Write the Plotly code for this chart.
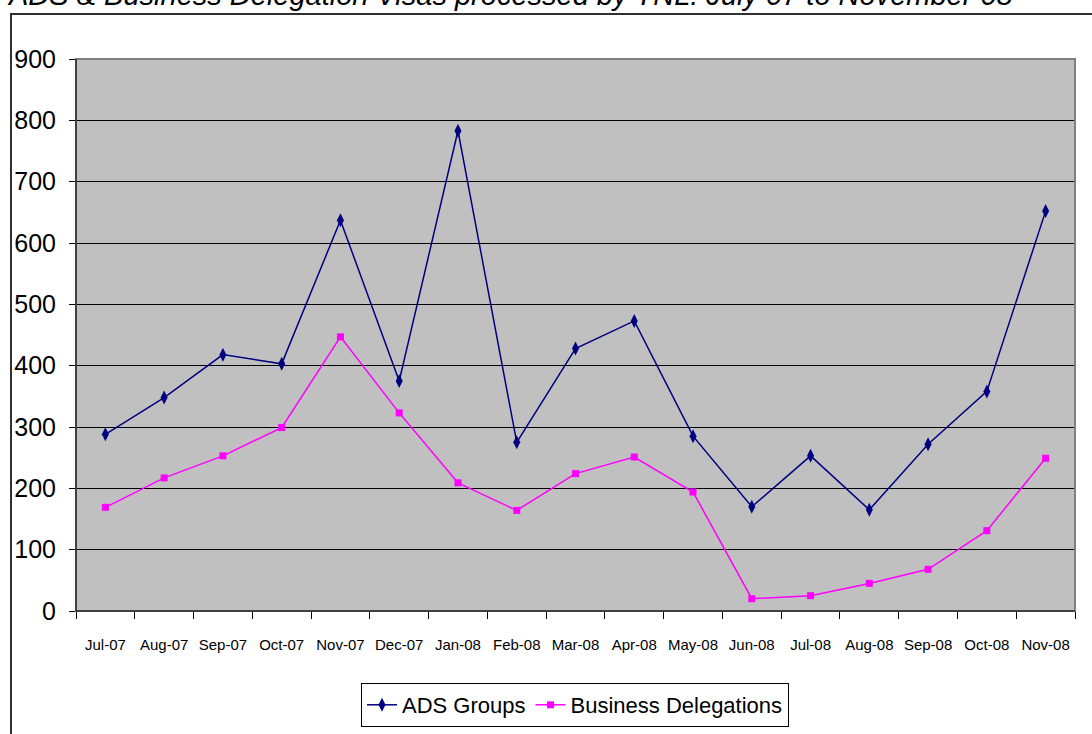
import plotly.graph_objects as go

months = ["Jul-07", "Aug-07", "Sep-07", "Oct-07", "Nov-07", "Dec-07", "Jan-08", "Feb-08",
          "Mar-08", "Apr-08", "May-08", "Jun-08", "Jul-08", "Aug-08", "Sep-08", "Oct-08", "Nov-08"]
ads_groups = [288, 348, 418, 403, 637, 375, 783, 275, 428, 473, 285, 170, 253, 165, 272, 358, 652]
business_delegations = [169, 217, 253, 299, 447, 323, 209, 164, 224, 251, 194, 20, 25, 45, 68, 131, 249]
y_ticks = [0, 100, 200, 300, 400, 500, 600, 700, 800, 900]

FONT = "Liberation Sans, Arial, sans-serif"

fig = go.Figure()
fig.add_trace(go.Scatter(
    x=months, y=ads_groups, name="ADS Groups", mode="lines+markers",
    line=dict(color="#000080", width=1.5),
    marker=dict(symbol="diamond-tall", size=10, color="#000080"),
))
fig.add_trace(go.Scatter(
    x=months, y=business_delegations, name="Business Delegations", mode="lines+markers",
    line=dict(color="#FF00FF", width=1.5),
    marker=dict(symbol="square", size=7, color="#FF00FF"),
))

W, H = 1092, 734
L, R, T, B = 76, 17, 59, 123
pw, ph = W - L - R, H - T - B

def px_x(p):
    return (p - L) / pw

def px_y(p):
    return (H - B - p) / ph

fig.update_layout(
    width=W, height=H,
    margin=dict(l=L, r=R, t=T, b=B, pad=0, autoexpand=False),
    paper_bgcolor="white",
    plot_bgcolor="#C0C0C0",
    font=dict(family=FONT, color="black"),
    showlegend=True,
    legend=dict(
        orientation="h", xref="container", yref="container",
        x=575 / W, xanchor="center", y=(H - 683) / H, yanchor="top",
        bgcolor="white", bordercolor="black", borderwidth=1,
        font=dict(family=FONT, size=22, color="black"),
        itemwidth=30, tracegroupgap=0,
    ),
    xaxis=dict(
        type="category", range=[-0.5, len(months) - 0.5], automargin=False,
        tickson="boundaries", ticks="outside", ticklen=7, tickcolor="black", tickwidth=1,
        showline=True, linecolor="black", linewidth=1, showgrid=False,
        tickangle=0,
        tickfont=dict(family=FONT, size=15, color="black"),
        ticklabelstandoff=20,
    ),
    yaxis=dict(
        range=[0, 900], tickvals=y_ticks, ticks="outside", ticklen=6, tickcolor="black",
        automargin=False,
        showline=True, linecolor="black", linewidth=1,
        showgrid=True, gridcolor="black", gridwidth=1, zeroline=False,
        tickfont=dict(family=FONT, size=25, color="black"),
        ticklabelstandoff=8,
    ),
    shapes=[
        dict(type="rect", xref="paper", yref="paper", x0=0, y0=0, x1=1, y1=1,
             line=dict(color="#808080", width=2), layer="above"),
        dict(type="rect", xref="paper", yref="paper",
             x0=px_x(11), y0=px_y(745), x1=px_x(1100), y1=px_y(14),
             line=dict(color="#303030", width=2), layer="below"),
    ],
    annotations=[
        dict(text="<i>ADS & Business Delegation Visas processed by TNL: July 07 to November 08</i>",
             xref="paper", yref="paper", x=px_x(510), y=px_y(13), xanchor="center", yanchor="bottom",
             showarrow=False,
             font=dict(family=FONT, size=29, color="black"),
             ),
    ],
)
fig.add_shape(type="line", xref="paper", yref="paper", x0=0, y0=0, x1=1, y1=0,
              line=dict(color="black", width=1), layer="above")
fig.add_shape(type="line", xref="paper", yref="paper", x0=0, y0=0, x1=0, y1=1,
              line=dict(color="black", width=1), layer="above")

fig.write_html("out.html")
